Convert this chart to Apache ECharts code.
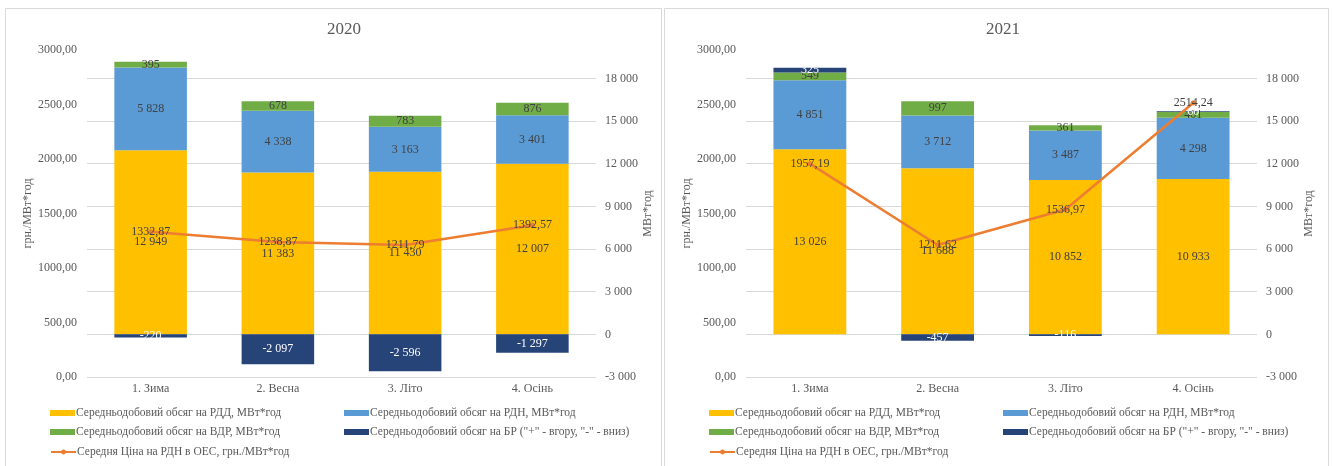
<!DOCTYPE html>
<html>
<head>
<meta charset="utf-8">
<script src="https://cdn.jsdelivr.net/npm/echarts@6/dist/echarts.min.js"></script>
<style>
  html, body { margin: 0; padding: 0; background: #ffffff; }
  #chart { width: 1332px; height: 466px; }
</style>
</head>
<body>
<div id="chart"></div>
<script>
// Categories and panel titles
const seasons = ['1. Зима', '2. Весна', '3. Літо', '4. Осінь'];
const years = ['2020', '2021'];

// Average daily volumes, MWh
const rdd2020 = [12949, 11383, 11430, 12007];
const rdn2020 = [5828, 4338, 3163, 3401];
const vdr2020 = [395, 678, 783, 876];
const br2020 = [-220, -2097, -2596, -1297];
const rdd2021 = [13026, 11688, 10852, 10933];
const rdn2021 = [4851, 3712, 3487, 4298];
const vdr2021 = [549, 997, 361, 401];
const br2021 = [325, -457, -116, 60];

// Average day-ahead price, UAH/MWh
const price2020 = [1332.87, 1238.87, 1211.79, 1392.57];
const price2021 = [1957.19, 1211.62, 1536.97, 2514.24];

// Series names (legend text)
const nameRDD = 'Середньодобовий обсяг на РДД, МВт*год';
const nameRDN = 'Середньодобовий обсяг на РДН, МВт*год';
const nameVDR = 'Середньодобовий обсяг на ВДР, МВт*год';
const nameBR = 'Середньодобовий обсяг на БР ("+" - вгору, "-" - вниз)';
const namePrice = 'Середня Ціна на РДН в ОЕС, грн./МВт*год';

// Axis names
const priceAxisName = 'грн./МВт*год';
const volumeAxisName = 'МВт*год';

const FONT = '"Liberation Serif", "Times New Roman", serif';
const TEXT = '#595959';
const LABEL = '#404040';
const GRID_LINE = '#D9D9D9';
const C_RDD = '#FFC000', C_RDN = '#5B9BD5', C_VDR = '#70AD47', C_BR = '#264478', C_PRICE = '#ED7D31';

const panels = [
  { title: years[0], rdd: rdd2020, rdn: rdn2020, vdr: vdr2020, br: br2020, price: price2020,
    grid: { left: 87, right: 736 }, titleX: 339, legendX: [50, 344], box: [5, 661] },
  { title: years[1], rdd: rdd2021, rdn: rdn2021, vdr: vdr2021, br: br2021, price: price2021,
    grid: { left: 746, right: 75 }, titleX: 998, legendX: [709, 1003], box: [664, 1328] }
];

function fmtThousands(v) {
  const s = Math.abs(Math.round(v)).toString().replace(/\B(?=(\d{3})+(?!\d))/g, ' ');
  return (v < 0 ? '-' : '') + s;
}
function fmtPrice(v) {
  return v.toFixed(2).replace('.', ',');
}

const option = {
  animation: false,
  backgroundColor: '#ffffff',
  textStyle: { fontFamily: FONT },
  title: [], grid: [], xAxis: [], yAxis: [], series: [], legend: [],
  graphic: []
};

panels.forEach((p, i) => {
  // panel frame
  option.graphic.push({
    type: 'rect', z: -10, silent: true,
    shape: { x: p.box[0] + 0.5, y: 8.5, width: p.box[1] - p.box[0], height: 470 },
    style: { fill: '#ffffff', stroke: GRID_LINE, lineWidth: 1 }
  });

  option.title.push({
    text: p.title, left: p.titleX, top: 16, textAlign: 'center',
    textStyle: { fontFamily: FONT, fontSize: 17, fontWeight: 'normal', color: TEXT }
  });

  option.grid.push({ left: p.grid.left, right: p.grid.right, top: 50, bottom: 89, containLabel: false });

  option.xAxis.push({
    type: 'category', gridIndex: i, data: seasons,
    axisLine: { show: false }, axisTick: { show: false },
    axisLabel: { fontFamily: FONT, fontSize: 12, color: TEXT, margin: 6 }
  });

  // price axis (left)
  option.yAxis.push({
    type: 'value', gridIndex: i, position: 'left', min: 0, max: 3000, interval: 500,
    name: priceAxisName, nameLocation: 'middle', nameRotate: 90, nameGap: 44,
    nameTextStyle: { fontFamily: FONT, fontSize: 12, color: TEXT },
    axisLine: { show: false }, axisTick: { show: false }, splitLine: { show: false },
    axisLabel: { fontFamily: FONT, fontSize: 12, color: TEXT, margin: 10,
      formatter: v => v.toFixed(2).replace('.', ',') }
  });
  // volume axis (right)
  option.yAxis.push({
    type: 'value', gridIndex: i, position: 'right', min: -3000, max: 20000, interval: 3000,
    name: volumeAxisName, nameLocation: 'middle', nameRotate: 90, nameGap: 44,
    nameTextStyle: { fontFamily: FONT, fontSize: 12, color: TEXT },
    axisLine: { show: false }, axisTick: { show: false },
    splitLine: { show: true, showMaxLine: false, lineStyle: { color: GRID_LINE, width: 1 } },
    axisLabel: { fontFamily: FONT, fontSize: 12, color: TEXT, margin: 9, showMaxLabel: false,
      formatter: v => fmtThousands(v) }
  });

  const stack = 'volume' + i;
  const barCommon = (name, data, color, labelColor) => ({
    name, type: 'bar', stack, data, xAxisIndex: i, yAxisIndex: 2 * i + 1,
    barWidth: '57%', itemStyle: { color },
    label: { show: true, position: 'inside', fontFamily: FONT, fontSize: 12, color: labelColor,
      formatter: prm => fmtThousands(prm.value) }
  });
  option.series.push(barCommon(nameRDD, p.rdd, C_RDD, LABEL));
  option.series.push(barCommon(nameRDN, p.rdn, C_RDN, LABEL));
  option.series.push(barCommon(nameVDR, p.vdr, C_VDR, LABEL));
  option.series.push(barCommon(nameBR, p.br, C_BR, '#ffffff'));

  option.series.push({
    name: namePrice, type: 'line', data: p.price, xAxisIndex: i, yAxisIndex: 2 * i, z: 5,
    symbol: 'circle', symbolSize: 5,
    lineStyle: { color: C_PRICE, width: 2.5 }, itemStyle: { color: C_PRICE },
    label: { show: true, position: 'inside', fontFamily: FONT, fontSize: 12, color: LABEL,
      formatter: prm => fmtPrice(prm.value) }
  });

  // legends: two columns, three rows
  const rows = [
    [nameRDD, p.legendX[0], 414, 'rect'], [nameRDN, p.legendX[1], 414, 'rect'],
    [nameVDR, p.legendX[0], 433, 'rect'], [nameBR, p.legendX[1], 433, 'rect'],
    [namePrice, p.legendX[0], 453, null]
  ];
  rows.forEach(([name, x, cy, icon]) => {
    const item = icon ? { name, icon } : { name };
    option.legend.push({
      data: [item], left: x, top: cy - 7, padding: 0, selectedMode: false,
      itemWidth: 25, itemHeight: 6, itemGap: 0,
      textStyle: { fontFamily: FONT, fontSize: 11.5, color: TEXT, padding: [0, 0, 0, -4] }
    });
  });
});

const chart = echarts.init(document.getElementById('chart'), null, { renderer: 'canvas' });
chart.setOption(option);
</script>
</body>
</html>
